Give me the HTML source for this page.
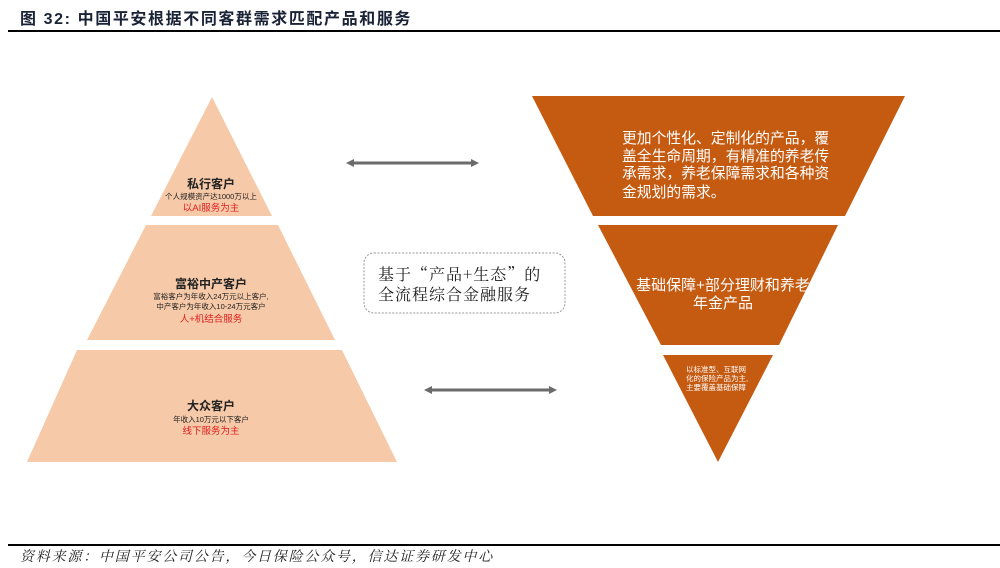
<!DOCTYPE html>
<html><head><meta charset="utf-8"><style>
html,body{margin:0;padding:0;background:#fff;}
body{width:1000px;height:568px;position:relative;overflow:hidden;font-family:"Liberation Sans","Noto Sans CJK SC",sans-serif;}
svg{position:absolute;left:0;top:0;}
</style></head><body>
<svg width="1000" height="568" viewBox="0 0 1000 568" xmlns="http://www.w3.org/2000/svg" font-family="'Liberation Sans','Noto Sans CJK SC',sans-serif">
<text x="20" y="24" font-size="16" font-weight="bold" fill="#1a2236" letter-spacing="1.6">图 32:  中国平安根据不同客群需求匹配产品和服务</text>
<rect x="8" y="30" width="992" height="2" fill="#000"/>
<!-- pyramid -->
<polygon points="212,97 272,216 151,216" fill="#F6C9A8"/>
<polygon points="146,225 278,225 335,340 87,340" fill="#F6C9A8"/>
<polygon points="77,350 342,350 397,462 27,462" fill="#F6C9A8"/>
<g text-anchor="middle">
<text x="211" y="188" font-size="12" font-weight="bold" fill="#222">私行客户</text>
<text x="211" y="199" font-size="7.5" fill="#222">个人规模资产达1000万以上</text>
<text x="211" y="211" font-size="9.5" fill="#e02020">以AI服务为主</text>
<text x="211" y="288" font-size="12" font-weight="bold" fill="#222">富裕中产客户</text>
<text x="211" y="299" font-size="7.5" fill="#222">富裕客户为年收入24万元以上客户,</text>
<text x="211" y="309" font-size="7.5" fill="#222">中产客户为年收入10-24万元客户</text>
<text x="211" y="322" font-size="9.5" fill="#e02020">人+机结合服务</text>
<text x="211" y="410" font-size="12" font-weight="bold" fill="#222">大众客户</text>
<text x="211" y="422" font-size="7.5" fill="#222">年收入10万元以下客户</text>
<text x="211" y="434" font-size="9.5" fill="#e02020">线下服务为主</text>
</g>
<!-- arrows -->
<g fill="#6b6b6b">
<rect x="352" y="161.5" width="122" height="3"/>
<polygon points="346,163 354,159 354,167"/><polygon points="479,163 471,159 471,167"/>
<rect x="430" y="388.5" width="122" height="3"/>
<polygon points="424,390 432,386 432,394"/><polygon points="557,390 549,386 549,394"/>
</g>
<!-- box -->
<rect x="364" y="253" width="201" height="60" rx="10" fill="#fff" stroke="#999" stroke-dasharray="2,1.5" stroke-width="1"/>
<text x="378" y="280" font-size="16" fill="#222" letter-spacing="1" font-family="'Noto Serif CJK SC',serif">基于“产品+生态”的</text>
<text x="378" y="300" font-size="16" fill="#222" letter-spacing="1" font-family="'Noto Serif CJK SC',serif">全流程综合金融服务</text>
<!-- inverted -->
<polygon points="532,96 905,96 845,216 593,216" fill="#C55A11"/>
<polygon points="598,225 838,225 779,345 661,345" fill="#C55A11"/>
<polygon points="663,355 773,355 718,462" fill="#C55A11"/>
<g fill="#fff">
<text x="622" y="143" font-size="14.8">更加个性化、定制化的产品，覆</text>
<text x="622" y="161" font-size="14.8">盖全生命周期，有精准的养老传</text>
<text x="622" y="178" font-size="14.8">承需求，养老保障需求和各种资</text>
<text x="622" y="197" font-size="14.8">金规划的需求。</text>
<text x="723" y="290" font-size="15" text-anchor="middle">基础保障+部分理财和养老</text>
<text x="723" y="308" font-size="15" text-anchor="middle">年金产品</text>
<text x="686" y="372" font-size="7.5">以标准型、互联网</text>
<text x="686" y="381" font-size="7.5">化的保险产品为主,</text>
<text x="686" y="390" font-size="7.5">主要覆盖基础保障</text>
</g>
<rect x="8" y="544" width="992" height="2" fill="#000"/>
<text x="20" y="561" font-size="14" font-style="italic" fill="#222" letter-spacing="1.8" font-family="'Noto Serif CJK SC',serif">资料来源：中国平安公司公告，今日保险公众号，信达证券研发中心</text>
</svg>
</body></html>
